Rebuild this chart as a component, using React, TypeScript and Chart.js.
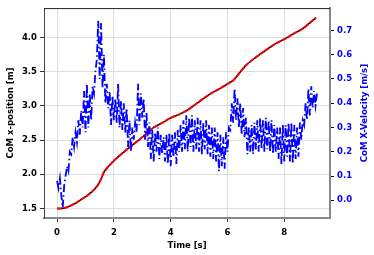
import React, { useEffect, useRef } from 'react';
import { Chart, registerables } from 'chart.js';
Chart.register(...registerables);

// CoM x-position [m] vs time [s]
const posTime = [0, 0.15, 0.3, 0.5, 0.7, 0.9, 1.05, 1.2, 1.34, 1.45, 1.55, 1.65, 1.8, 1.98, 2.25, 2.57, 2.85, 3.16, 3.39, 3.7, 3.98, 4.3, 4.56, 4.8, 5.03, 5.25, 5.5, 5.8, 6.08, 6.2, 6.4, 6.67, 7.0, 7.37, 7.7, 8.07, 8.35, 8.65, 8.89, 9.12];
const posVal = [1.5, 1.5, 1.51, 1.545, 1.59, 1.645, 1.685, 1.735, 1.79, 1.85, 1.93, 2.03, 2.11, 2.19, 2.29, 2.4, 2.49, 2.6, 2.68, 2.75, 2.82, 2.875, 2.93, 3.0, 3.07, 3.135, 3.2, 3.27, 3.34, 3.37, 3.47, 3.6, 3.71, 3.82, 3.91, 3.99, 4.06, 4.13, 4.21, 4.29];

// CoM X-velocity [m/s], sampled every 0.05 s
const velStep = 0.05;
const velocity = [
  0.08, 0.05, 0.09, 0.02, -0.03, 0.06, 0.10, 0.14, 0.12, 0.20,
  0.19, 0.26, 0.22, 0.28, 0.24, 0.33, 0.27, 0.37, 0.30, 0.45,
  0.28, 0.48, 0.30, 0.44, 0.33, 0.47, 0.44, 0.53, 0.58, 0.74,
  0.50, 0.73, 0.46, 0.60, 0.40, 0.48, 0.38, 0.45, 0.31, 0.43,
  0.33, 0.42, 0.32, 0.48, 0.30, 0.41, 0.29, 0.40, 0.28, 0.38,
  0.22, 0.33, 0.20, 0.30, 0.25, 0.32, 0.28, 0.48, 0.31, 0.44,
  0.34, 0.42, 0.25, 0.36, 0.22, 0.32, 0.17, 0.29, 0.16, 0.28,
  0.20, 0.30, 0.17, 0.27, 0.19, 0.26, 0.16, 0.27, 0.15, 0.28,
  0.14, 0.27, 0.18, 0.28, 0.15, 0.29, 0.20, 0.31, 0.20, 0.33,
  0.21, 0.35, 0.20, 0.34, 0.22, 0.35, 0.20, 0.33, 0.21, 0.34,
  0.20, 0.33, 0.19, 0.32, 0.21, 0.33, 0.19, 0.31, 0.18, 0.30,
  0.17, 0.30, 0.16, 0.28, 0.12, 0.27, 0.14, 0.26, 0.13, 0.28,
  0.20, 0.30, 0.29, 0.40, 0.32, 0.46, 0.33, 0.42, 0.30, 0.40,
  0.27, 0.38, 0.26, 0.34, 0.19, 0.30, 0.20, 0.31, 0.19, 0.32,
  0.21, 0.33, 0.20, 0.34, 0.21, 0.33, 0.20, 0.34, 0.21, 0.33,
  0.20, 0.33, 0.19, 0.31, 0.20, 0.30, 0.17, 0.30, 0.15, 0.31,
  0.16, 0.31, 0.18, 0.32, 0.16, 0.32, 0.15, 0.31, 0.17, 0.30,
  0.18, 0.32, 0.25, 0.33, 0.31, 0.40, 0.33, 0.46, 0.35, 0.47,
  0.38, 0.45, 0.39, 0.44,
];
const velTime = velocity.map((_, i) => +(i * velStep).toFixed(2));

const xTicks = [0, 2, 4, 6, 8];
const posTicks = [1.5, 2.0, 2.5, 3.0, 3.5, 4.0];
const velTicks = [0.0, 0.1, 0.2, 0.3, 0.4, 0.5, 0.6, 0.7];
const rightTitle = 'CoM X-Velocity [m/s]';

const FONT = "'DejaVu Sans', sans-serif";

export default function App() {
  const ref = useRef<HTMLCanvasElement>(null);
  useEffect(() => {
    document.body.style.margin = '0';
    const canvas = ref.current!;
    const frame = {
      id: 'frame',
      afterDraw(chart: any) {
        const { ctx, chartArea: a } = chart;
        ctx.save();
        ctx.strokeStyle = '#222';
        ctx.lineWidth = 1;
        ctx.beginPath();
        ctx.moveTo(a.left, a.top + 0.5);
        ctx.lineTo(a.right, a.top + 0.5);
        ctx.stroke();
        // right axis title, reading bottom-to-top
        ctx.translate(365, (a.top + a.bottom) / 2);
        ctx.rotate(-Math.PI / 2);
        ctx.fillStyle = '#0000ff';
        ctx.font = `bold 8.5px ${FONT}`;
        ctx.textAlign = 'center';
        ctx.textBaseline = 'middle';
        ctx.fillText(rightTitle, 0, 0);
        ctx.restore();
      },
    };
    const font = { family: FONT, size: 8.5, weight: 'bold' as const };
    const chart = new Chart(canvas, {
      type: 'line',
      data: {
        datasets: [
          {
            label: 'velocity',
            data: velTime.map((t, i) => ({ x: t, y: velocity[i] })),
            yAxisID: 'y1',
            borderColor: '#0000ff',
            borderWidth: 1.8,
            borderDash: [8, 3, 1.5, 3],
            pointRadius: 0,
            tension: 0,
            order: 0,
          },
          {
            label: 'posRed',
            data: posTime.map((t, i) => ({ x: t, y: posVal[i] })),
            yAxisID: 'y',
            borderColor: '#ff0000',
            borderWidth: 2,
            borderDash: [5, 1.5],
            pointRadius: 0,
            tension: 0.3,
            order: 1,
          },
          {
            label: 'posBlack',
            data: posTime.map((t, i) => ({ x: t, y: posVal[i] })),
            yAxisID: 'y',
            borderColor: '#000000',
            borderWidth: 1.5,
            pointRadius: 0,
            tension: 0.3,
            order: 2,
          },
        ],
      },
      options: {
        animation: false,
        responsive: false,
        maintainAspectRatio: false,
        plugins: { legend: { display: false }, tooltip: { enabled: false } },
        layout: { padding: { top: 5, right: 0, left: 0, bottom: 0 } },
        scales: {
          x: {
            type: 'linear',
            position: 'bottom',
            min: -0.46,
            max: 9.61,
            afterBuildTicks: (s: any) => { s.ticks = xTicks.map((v) => ({ value: v })); },
            afterFit: (s: any) => { s.height = 37; },
            grid: { color: '#d6d6d6', lineWidth: 0.8, tickColor: '#000', tickLength: 4 },
            border: { color: '#888', width: 2 },
            ticks: { color: '#000', font, padding: 6, maxRotation: 0, callback: (v: any) => String(v) },
            title: { display: true, text: 'Time [s]', color: '#000', font, padding: { top: 0, bottom: 4 } },
          },
          y: {
            type: 'linear',
            position: 'left',
            min: 1.36,
            max: 4.43,
            afterBuildTicks: (s: any) => { s.ticks = posTicks.map((v) => ({ value: v })); },
            afterFit: (s: any) => { s.width = 44; },
            grid: { color: '#d6d6d6', lineWidth: 0.8, tickColor: '#000', tickLength: 4 },
            border: { color: '#444', width: 1 },
            ticks: { color: '#000', font, padding: 3, callback: (v: any) => Number(v).toFixed(1) },
            title: { display: true, text: 'CoM x-position [m]', color: '#000', font, padding: { top: 6, bottom: 0 } },
          },
          y1: {
            type: 'linear',
            position: 'right',
            min: -0.073,
            max: 0.792,
            afterBuildTicks: (s: any) => { s.ticks = velTicks.map((v) => ({ value: v })); },
            afterFit: (s: any) => { s.width = 44; },
            grid: { drawOnChartArea: false, tickColor: '#000', tickLength: 4 },
            border: { color: '#888', width: 2 },
            ticks: { color: '#0000ff', font, padding: 3, callback: (v: any) => Number(v).toFixed(1) },
            title: { display: false },
          },
        },
      },
      plugins: [frame],
    });
    return () => chart.destroy();
  }, []);
  return (
    <div style={{ width: 374, height: 255 }}>
      <canvas ref={ref} width={374} height={255} style={{ display: 'block' }} />
    </div>
  );
}
